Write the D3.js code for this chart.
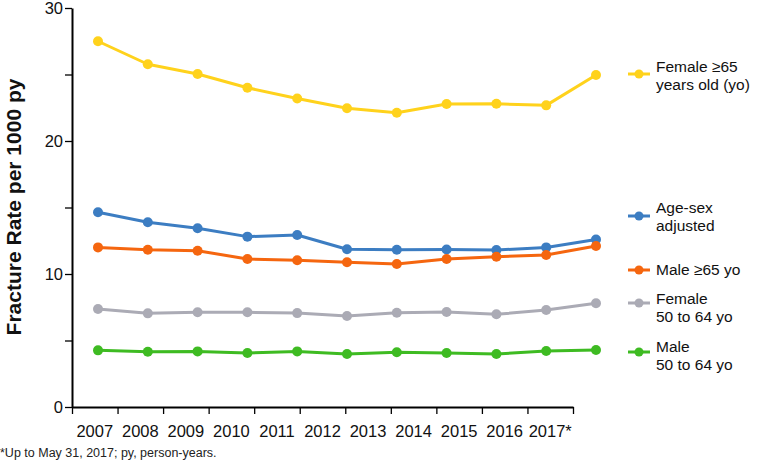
<!DOCTYPE html>
<html>
<head>
<meta charset="utf-8">
<script src="https://cdn.jsdelivr.net/npm/d3@7/dist/d3.min.js"></script>
<style>
  html, body { margin: 0; padding: 0; background: #fff; }
  svg { display: block; font-family: "Liberation Sans", Arial, Helvetica, sans-serif; }
</style>
</head>
<body>
<svg id="chart" width="761" height="467"></svg>
<script>
// ---- Data ----
const years = ["2007","2008","2009","2010","2011","2012","2013","2014","2015","2016","2017"];
const yearLabels = ["2007","2008","2009","2010","2011","2012","2013","2014","2015","2016","2017*"];
const yTickValues = [0, 10, 20, 30];
const yMinorTicks = [0, 5, 10, 15, 20, 25, 30];

const female65 = [27.5, 25.77, 25.04, 24.0, 23.2, 22.46, 22.13, 22.78, 22.8, 22.68, 24.96];
const ageSexAdj = [14.64, 13.89, 13.44, 12.81, 12.93, 11.86, 11.83, 11.84, 11.8, 12.0, 12.6];
const male65 = [12.0, 11.83, 11.75, 11.13, 11.03, 10.88, 10.75, 11.13, 11.3, 11.43, 12.1];
const female5064 = [7.37, 7.04, 7.12, 7.12, 7.06, 6.84, 7.09, 7.14, 6.97, 7.29, 7.8];
const male5064 = [4.26, 4.16, 4.18, 4.06, 4.18, 3.98, 4.11, 4.06, 3.98, 4.21, 4.29];

const seriesNames = ["Female ≥65 years old (yo)", "Age-sex adjusted", "Male ≥65 yo", "Female 50 to 64 yo", "Male 50 to 64 yo"];
const seriesValues = [female65, ageSexAdj, male65, female5064, male5064];
const legendLines = [["Female ≥65", "years old (yo)"], ["Age-sex", "adjusted"], ["Male ≥65 yo"], ["Female", "50 to 64 yo"], ["Male", "50 to 64 yo"]];
const colors = ["#FFD21C", "#3C7DC2", "#F5660F", "#ABABB5", "#3EBB22"];

// ---- Layout ----
const svg = d3.select("#chart");
const axisLeftX = 72, axisRightX = 573;
const yTop = 8, yBottom = 407;

const y = d3.scaleLinear().domain([0, 30]).range([yBottom, yTop]);
const xBand = d3.scaleBand().domain(years).range([axisLeftX, axisRightX]).padding(0);
const xTicks = d3.scaleLinear().domain([0, years.length]).range([axisLeftX, axisRightX]);
const xPts = d3.scalePoint().domain(years).range([98, 596]);

const textColor = "#111";

// Y axis
const yAxisG = svg.append("g").attr("transform", `translate(${axisLeftX},0)`);
yAxisG.call(d3.axisLeft(y).tickValues(yMinorTicks).tickSize(7).tickSizeOuter(0)
  .tickFormat(d => yTickValues.includes(d) ? d : ""));
yAxisG.select(".domain").attr("stroke", "#000").attr("stroke-width", 2);
yAxisG.selectAll(".tick line").attr("stroke", "#000").attr("stroke-width", 1.3);
yAxisG.selectAll(".tick text").attr("font-size", "16.5px").attr("fill", textColor)
  .attr("font-family", "'Liberation Sans', Arial, sans-serif").attr("x", -9);

// X axis ticks (band boundaries)
const xTickG = svg.append("g").attr("transform", `translate(0,${yBottom})`);
xTickG.call(d3.axisBottom(xTicks).ticks(years.length).tickValues(d3.range(0, years.length + 1))
  .tickSize(7).tickSizeOuter(0).tickFormat(""));
xTickG.select(".domain").attr("stroke", "#000").attr("stroke-width", 2);
xTickG.selectAll(".tick line").attr("stroke", "#000").attr("stroke-width", 1.3);

// X axis labels (band centers)
const xLabG = svg.append("g").attr("transform", `translate(0,${yBottom})`);
xLabG.call(d3.axisBottom(xBand).tickSize(0).tickFormat((d, i) => yearLabels[i]));
xLabG.select(".domain").remove();
xLabG.selectAll(".tick text").attr("font-size", "16.5px").attr("fill", textColor)
  .attr("font-family", "'Liberation Sans', Arial, sans-serif").attr("dy", 0).attr("y", 30);

// Y label
svg.append("text")
  .attr("transform", `translate(21,207) rotate(-90)`)
  .attr("text-anchor", "middle")
  .attr("font-size", "21px").attr("font-weight", "bold").attr("fill", textColor)
  .text("Fracture Rate per 1000 py");

// Lines and points
const line = d3.line().x((d, i) => xPts(years[i])).y(d => y(d));
seriesValues.forEach((vals, s) => {
  svg.append("path").datum(vals)
    .attr("d", line).attr("fill", "none")
    .attr("stroke", colors[s]).attr("stroke-width", 3).attr("stroke-linejoin", "round");
  svg.append("g").selectAll("circle").data(vals).join("circle")
    .attr("cx", (d, i) => xPts(years[i])).attr("cy", d => y(d))
    .attr("r", 5).attr("fill", colors[s]);
});

// Legend
const legendMarkerY = [74, 216, 270, 303, 352];
const legendBaseY = [72, 213, 275, 304, 352];
const lg = svg.append("g");
legendLines.forEach((lines, s) => {
  const my = legendMarkerY[s];
  lg.append("line").attr("x1", 628).attr("x2", 650).attr("y1", my).attr("y2", my)
    .attr("stroke", colors[s]).attr("stroke-width", 3);
  lg.append("circle").attr("cx", 639).attr("cy", my).attr("r", 4.5).attr("fill", colors[s]);
  const t = lg.append("text").attr("x", 656).attr("y", legendBaseY[s])
    .attr("font-size", "15.5px").attr("fill", textColor);
  lines.forEach((ln, k) => {
    t.append("tspan").attr("x", 656).attr("dy", k === 0 ? 0 : 17.5).text(ln);
  });
});

// Footnote
svg.append("text").attr("x", 0).attr("y", 457)
  .attr("font-size", "12.5px").attr("fill", "#222")
  .text("*Up to May 31, 2017; py, person-years.");
</script>
</body>
</html>
